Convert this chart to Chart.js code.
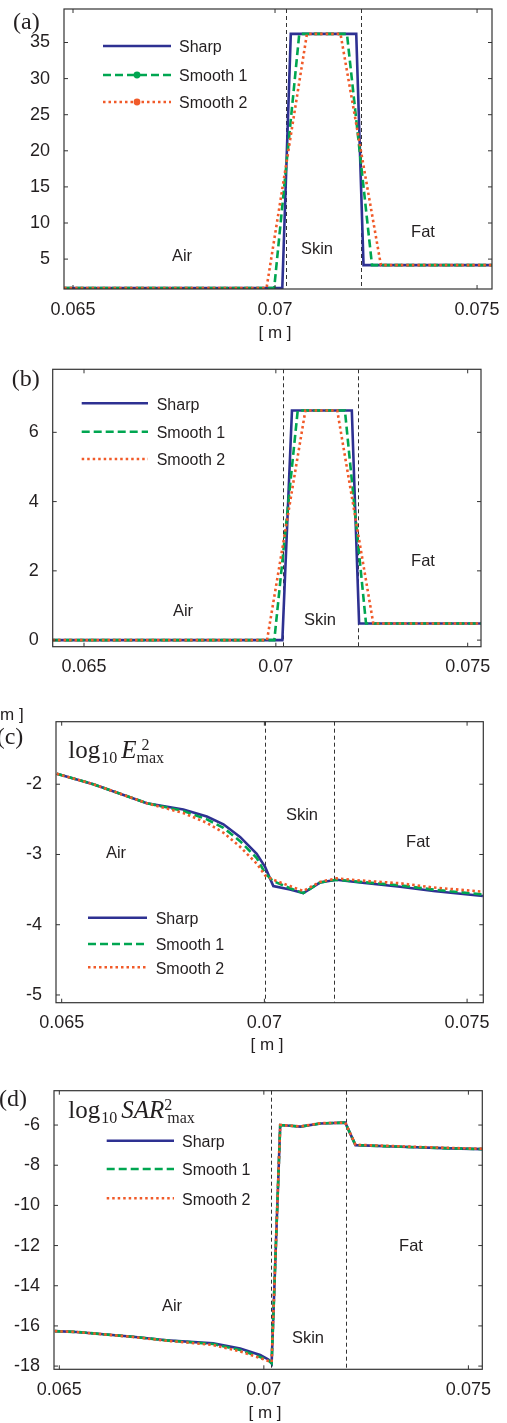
<!DOCTYPE html>
<html>
<head>
<meta charset="utf-8">
<script src="https://cdn.jsdelivr.net/npm/chart.js@4.4.0/dist/chart.umd.min.js"></script>
<style>
  body { margin: 0; background: #fff; }
  #wrap { position: relative; width: 507px; height: 1423px; }
  #wrap canvas { position: absolute; left: 0; top: 0; }
</style>
</head>
<body>
<div id="wrap">
  <canvas id="panelA" width="507" height="1423"></canvas>
  <canvas id="panelB" width="507" height="1423"></canvas>
  <canvas id="panelC" width="507" height="1423"></canvas>
  <canvas id="panelD" width="507" height="1423"></canvas>
</div>
<script>
// ---- data ----
const seriesNames = ['Sharp', 'Smooth 1', 'Smooth 2'];
const xTickVals = [0.065, 0.07, 0.075];
const xTickLabels = ['0.065', '0.07', '0.075'];

// (a) permittivity profile
const aSharpX   = [0.06478, 0.07018, 0.07039, 0.07201, 0.07219, 0.07537];
const aSmooth1X = [0.06478, 0.06998, 0.07060, 0.07178, 0.07240, 0.07537];
const aSmooth2X = [0.06478, 0.06979, 0.07079, 0.07162, 0.07262, 0.07537];
const aY        = [1, 1, 36.2, 36.2, 4.17, 4.17];
const aYTicks   = [5, 10, 15, 20, 25, 30, 35];
const aBounds   = [0.070264, 0.07213];

// (b) conductivity profile
const bSharpX   = [0.06418, 0.07017, 0.07042, 0.07198, 0.07217, 0.07535];
const bSmooth1X = [0.06418, 0.06996, 0.07057, 0.07180, 0.07235, 0.07535];
const bSmooth2X = [0.06418, 0.06977, 0.07077, 0.07160, 0.07254, 0.07535];
const bY        = [0, 0, 6.63, 6.63, 0.48, 0.48];
const bYTicks   = [0, 2, 4, 6];
const bBounds   = [0.070174, 0.072137];

// (c) log10 E^2 max
const cX = [0.06488, 0.06578, 0.0671, 0.068, 0.06858, 0.06899, 0.0694, 0.06981, 0.07002,
            0.07022, 0.07063, 0.07096, 0.07137, 0.07178, 0.07236, 0.07335, 0.07417, 0.07539];
const cSharp   = [-1.85, -2.0, -2.27, -2.36, -2.46, -2.57, -2.75, -2.99, -3.18,
                  -3.45, -3.50, -3.55, -3.40, -3.36, -3.40, -3.46, -3.52, -3.59];
const cSmooth1 = [-1.85, -2.0, -2.27, -2.38, -2.50, -2.62, -2.81, -3.05, -3.27,
                  -3.38, -3.48, -3.55, -3.40, -3.36, -3.39, -3.44, -3.50, -3.57];
const cSmooth2 = [-1.85, -2.0, -2.27, -2.41, -2.55, -2.69, -2.89, -3.13, -3.30,
                  -3.36, -3.45, -3.52, -3.39, -3.34, -3.37, -3.41, -3.47, -3.53];
const cYTicks  = [-5, -4, -3, -2];
const cBounds  = [0.07002, 0.07171];

// (d) log10 SAR^2 max
const dX = [0.06489, 0.06542, 0.0668, 0.06762, 0.06876, 0.06942, 0.06991, 0.07011, 0.07019,
            0.0704, 0.07072, 0.07089, 0.07138, 0.07199, 0.07224, 0.07334, 0.07456, 0.07535];
const dSharp   = [-16.26, -16.30, -16.54, -16.71, -16.87, -17.12, -17.45, -17.67, -17.87,
                  -6.00, -6.05, -6.08, -5.92, -5.88, -7.00, -7.08, -7.16, -7.20];
const dSmooth1 = [-16.26, -16.30, -16.54, -16.72, -16.90, -17.20, -17.55, -17.72, -17.85,
                  -6.00, -6.05, -6.08, -5.92, -5.88, -7.00, -7.08, -7.16, -7.20];
const dSmooth2 = [-16.26, -16.30, -16.55, -16.74, -16.95, -17.27, -17.60, -17.75, -17.80,
                  -6.00, -6.04, -6.07, -5.91, -5.88, -6.98, -7.06, -7.14, -7.18];
const dYTicks  = [-18, -16, -14, -12, -10, -8, -6];
const dBounds  = [0.07018, 0.07202];

// ---- styles ----
const INK = '#231f20';
const SANS = '"Liberation Sans", Arial, sans-serif';
const SERIF = '"Liberation Serif", "Times New Roman", serif';
const lineStyles = [
  { color: '#2e3192', dash: [] },
  { color: '#00a651', dash: [8, 4] },
  { color: '#f15a29', dash: [2.5, 3] }
];
const X_AXIS_H = 45;

Chart.defaults.font.family = SANS;
Chart.defaults.color = INK;

function toPts(xs, ys) {
  return xs.map((x, i) => ({ x: x, y: ys[i] }));
}

// frame, inward ticks, boundaries, legend and labels (MATLAB look)
const decoPlugin = {
  id: 'deco',
  beforeDatasetsDraw(chart, args, opts) {
    const ctx = chart.ctx, a = chart.chartArea, xs = chart.scales.x;
    ctx.save();
    ctx.strokeStyle = '#333';
    ctx.lineWidth = 1;
    ctx.setLineDash([4, 3]);
    (opts.bounds || []).forEach(v => {
      const px = Math.round(xs.getPixelForValue(v)) + 0.5;
      ctx.beginPath();
      ctx.moveTo(px, a.top);
      ctx.lineTo(px, a.bottom);
      ctx.stroke();
    });
    ctx.restore();
  },
  afterDraw(chart, args, opts) {
    const ctx = chart.ctx, a = chart.chartArea;
    const xs = chart.scales.x, ys = chart.scales.y;
    ctx.save();
    // box
    ctx.strokeStyle = '#333';
    ctx.lineWidth = 1.2;
    ctx.setLineDash([]);
    ctx.strokeRect(a.left, a.top, a.right - a.left, a.bottom - a.top);
    // inward ticks on all four sides
    ctx.lineWidth = 1;
    ctx.beginPath();
    xs.ticks.forEach(t => {
      const px = xs.getPixelForValue(t.value);
      ctx.moveTo(px, a.bottom); ctx.lineTo(px, a.bottom - 4);
      ctx.moveTo(px, a.top); ctx.lineTo(px, a.top + 4);
    });
    ys.ticks.forEach(t => {
      const py = ys.getPixelForValue(t.value);
      ctx.moveTo(a.left, py); ctx.lineTo(a.left + 4, py);
      ctx.moveTo(a.right, py); ctx.lineTo(a.right - 4, py);
    });
    ctx.stroke();

    // legend
    const lg = opts.legend;
    if (lg) {
      seriesNames.forEach((name, i) => {
        const st = lineStyles[i], y = lg.ys[i];
        ctx.strokeStyle = st.color;
        ctx.lineWidth = 2.6;
        ctx.setLineDash(st.dash);
        ctx.beginPath();
        ctx.moveTo(lg.x1, y);
        ctx.lineTo(lg.x2, y);
        ctx.stroke();
        if (lg.markers && i > 0) {
          ctx.setLineDash([]);
          ctx.fillStyle = st.color;
          ctx.beginPath();
          ctx.arc((lg.x1 + lg.x2) / 2, y, 3.4, 0, Math.PI * 2);
          ctx.fill();
        }
        ctx.setLineDash([]);
        ctx.fillStyle = INK;
        ctx.font = '16px ' + SANS;
        ctx.textAlign = 'left';
        ctx.textBaseline = 'middle';
        ctx.fillText(name, lg.tx, y + 2);
      });
    }

    // free texts
    (opts.texts || []).forEach(t => {
      ctx.fillStyle = INK;
      ctx.font = t.font;
      ctx.textAlign = t.align || 'center';
      ctx.textBaseline = t.baseline || 'middle';
      ctx.fillText(t.text, t.x, t.y);
    });

    // log10 title with sub/superscripts
    const ti = opts.title;
    if (ti) {
      ctx.fillStyle = INK;
      ctx.textAlign = 'left';
      ctx.textBaseline = 'alphabetic';
      let x = ti.x;
      ctx.font = '25px ' + SERIF;
      ctx.fillText('log', x, ti.base);
      x += ctx.measureText('log').width + 1;
      ctx.font = '16px ' + SERIF;
      ctx.fillText('10', x, ti.base + 4.5);
      x += ctx.measureText('10').width + 4;
      ctx.font = 'italic 25px ' + SERIF;
      ctx.fillText(ti.v, x, ti.base);
      x += ctx.measureText(ti.v).width;
      ctx.font = '16px ' + SERIF;
      ctx.fillText('2', x + ti.supDx, ti.base - 8);
      ctx.fillText('max', x + ti.subDx, ti.base + 5);
    }
    ctx.restore();
  }
};
Chart.register(decoPlugin);

function makePanel(id, p) {
  const datasets = p.series.map((s, i) => ({
    label: seriesNames[i],
    data: toPts(s.x, s.y),
    borderColor: lineStyles[i].color,
    borderDash: lineStyles[i].dash,
    borderWidth: 2.6,
    pointRadius: 0,
    tension: 0,
    fill: false,
    order: 3 - i
  }));
  const ar = p.area;
  return new Chart(document.getElementById(id), {
    type: 'line',
    data: { datasets: datasets },
    options: {
      responsive: false,
      animation: false,
      events: [],
      layout: { padding: { top: ar.T, right: 507 - ar.R, bottom: 1423 - ar.B - X_AXIS_H, left: 0 } },
      scales: {
        x: {
          type: 'linear', min: p.xr[0], max: p.xr[1],
          grid: { display: false }, border: { display: false },
          afterFit: s => { s.height = X_AXIS_H; s.paddingLeft = 0; s.paddingRight = 0; },
          afterBuildTicks: s => { s.ticks = xTickVals.map(v => ({ value: v })); },
          ticks: {
            padding: 2, autoSkip: false, maxRotation: 0, color: INK,
            font: { size: 18 },
            callback: (v, i) => xTickLabels[i]
          }
        },
        y: {
          type: 'linear', min: p.yr[0], max: p.yr[1],
          grid: { display: false }, border: { display: false },
          afterFit: s => { s.width = ar.L; s.paddingTop = 0; s.paddingBottom = 0; },
          afterBuildTicks: s => { s.ticks = p.yTicks.map(v => ({ value: v })); },
          ticks: {
            padding: 6, autoSkip: false, color: INK,
            font: { size: 18 },
            callback: (v, i) => String(p.yTicks[i])
          }
        }
      },
      plugins: {
        legend: { display: false },
        tooltip: { enabled: false },
        deco: { bounds: p.bounds, legend: p.legend, texts: p.texts, title: p.title }
      }
    }
  });
}

const labelFont = '16.5px ' + SANS;
const axisFont = '17px ' + SANS;
const tagFont = '24px ' + SERIF;

makePanel('panelA', {
  area: { L: 64, R: 492, T: 9, B: 289 },
  xr: [0.064777, 0.07537], yr: [0.86, 39.64], yTicks: aYTicks, bounds: aBounds,
  series: [{ x: aSharpX, y: aY }, { x: aSmooth1X, y: aY }, { x: aSmooth2X, y: aY }],
  legend: { x1: 103, x2: 171, tx: 179, ys: [46, 75, 102], markers: true },
  texts: [
    { text: '(a)', x: 13, y: 29, font: tagFont, align: 'left', baseline: 'alphabetic' },
    { text: 'Air', x: 182, y: 256, font: labelFont },
    { text: 'Skin', x: 317, y: 249, font: labelFont },
    { text: 'Fat', x: 423, y: 232, font: labelFont },
    { text: '[ m ]', x: 275, y: 333, font: axisFont }
  ]
});

makePanel('panelB', {
  area: { L: 52.7, R: 481, T: 369.3, B: 646.7 },
  xr: [0.064184, 0.075347], yr: [-0.19, 7.82], yTicks: bYTicks, bounds: bBounds,
  series: [{ x: bSharpX, y: bY }, { x: bSmooth1X, y: bY }, { x: bSmooth2X, y: bY }],
  legend: { x1: 81.7, x2: 148, tx: 156.7, ys: [403.3, 431.7, 459] },
  texts: [
    { text: '(b)', x: 11.7, y: 386, font: tagFont, align: 'left', baseline: 'alphabetic' },
    { text: 'Air', x: 183, y: 611, font: labelFont },
    { text: 'Skin', x: 320, y: 620, font: labelFont },
    { text: 'Fat', x: 423, y: 561, font: labelFont }
  ]
});

makePanel('panelC', {
  area: { L: 56, R: 483.3, T: 721.7, B: 1002.7 },
  xr: [0.06486, 0.0754], yr: [-5.11, -1.11], yTicks: cYTicks, bounds: cBounds,
  series: [{ x: cX, y: cSharp }, { x: cX, y: cSmooth1 }, { x: cX, y: cSmooth2 }],
  legend: { x1: 88, x2: 147, tx: 155.7, ys: [917.7, 944, 967.3] },
  title: { v: 'E', x: 68.3, base: 758.3, supDx: 5, subDx: 0 },
  texts: [
    { text: 'm ]', x: 0, y: 715, font: axisFont, align: 'left' },
    { text: '(c)', x: -3.3, y: 744, font: tagFont, align: 'left', baseline: 'alphabetic' },
    { text: 'Air', x: 116, y: 853, font: labelFont },
    { text: 'Skin', x: 302, y: 815, font: labelFont },
    { text: 'Fat', x: 418, y: 842, font: labelFont },
    { text: '[ m ]', x: 267, y: 1045, font: axisFont }
  ]
});

makePanel('panelD', {
  area: { L: 54, R: 482.3, T: 1090.7, B: 1369.3 },
  xr: [0.06487, 0.07534], yr: [-18.16, -4.29], yTicks: dYTicks, bounds: dBounds,
  series: [{ x: dX, y: dSharp }, { x: dX, y: dSmooth1 }, { x: dX, y: dSmooth2 }],
  legend: { x1: 106.7, x2: 174, tx: 182, ys: [1140.7, 1169, 1198.3] },
  title: { v: 'SAR', x: 68.3, base: 1118.3, supDx: 0, subDx: 3 },
  texts: [
    { text: '(d)', x: -1, y: 1106, font: tagFont, align: 'left', baseline: 'alphabetic' },
    { text: 'Air', x: 172, y: 1306, font: labelFont },
    { text: 'Skin', x: 308, y: 1338, font: labelFont },
    { text: 'Fat', x: 411, y: 1246, font: labelFont },
    { text: '[ m ]', x: 265, y: 1413, font: axisFont }
  ]
});
</script>
</body>
</html>
